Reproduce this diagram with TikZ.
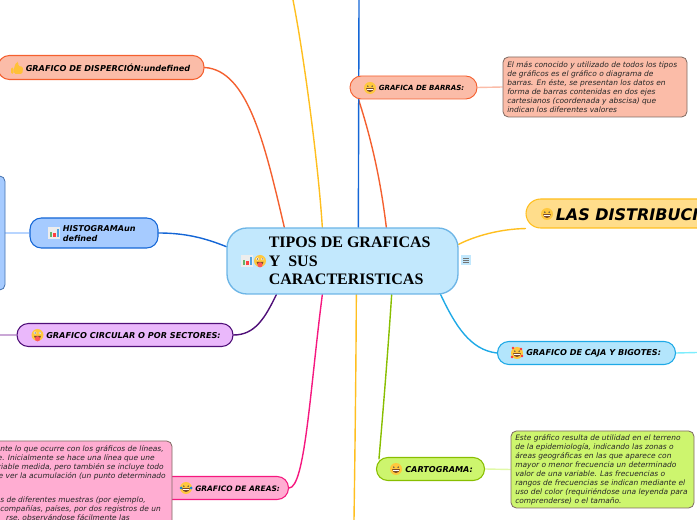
\documentclass[tikz,border=0pt]{standalone}
\usepackage{fontspec}
\setmainfont{DejaVu Sans}
\newfontfamily\titlefont{Liberation Serif}
\usetikzlibrary{calc,backgrounds}
\definecolor{cCenterF}{HTML}{C2E8FD}\definecolor{cCenterD}{HTML}{6DB5E6}
\definecolor{cRedF}{HTML}{FBBCA8}\definecolor{cRedD}{HTML}{F4602F}
\definecolor{cBlueF}{HTML}{A6CBFF}\definecolor{cBlueD}{HTML}{1466D6}
\definecolor{cPurF}{HTML}{EAB8FB}\definecolor{cPurD}{HTML}{4F0F78}
\definecolor{cCyanF}{HTML}{B3E5FC}\definecolor{cCyanD}{HTML}{1EA9E6}
\definecolor{cPinkF}{HTML}{FFADD2}\definecolor{cPinkD}{HTML}{F5187F}
\definecolor{cGrnF}{HTML}{CDF56E}\definecolor{cGrnD}{HTML}{88BE00}
\definecolor{cGoldF}{HTML}{FFDD8B}\definecolor{cGoldD}{HTML}{FFBF1F}
\definecolor{cFace}{HTML}{FFC83D}\definecolor{cEdge}{HTML}{7F6A62}
\definecolor{cMouth}{HTML}{7A4A2A}
\tikzset{
  sz/.style 2 args={minimum width=#1*0.75pt,minimum height=#2*0.75pt},
  pill/.style 2 args={draw=#2,fill=#1,line width=0.8pt,rounded corners=8.5pt,inner sep=0pt},
  detail/.style={fill=#1,draw=cEdge,line width=0.6pt,rounded corners=4pt,inner sep=0pt},
  head/.style={font=\fontsize{6.1pt}{7pt}\selectfont\bfseries\itshape,inner sep=0pt,anchor=west},
  headb/.style={font=\fontsize{6.05pt}{6.9pt}\selectfont\bfseries\itshape,inner sep=0pt,anchor=west,align=left},
  body/.style={font=\fontsize{5.6pt}{6.75pt}\selectfont\itshape,inner sep=0pt,align=left,anchor=north west,text=black!85},
  bline/.style={font=\fontsize{5.6pt}{6.75pt}\selectfont\itshape,inner sep=0pt,anchor=east,text=black!85},
  conn/.style={line width=1.05pt,line cap=round},
  leaf/.style={line width=1.05pt,draw=#1}
}
\newcommand\faceicon[2]{%
  \fill[cFace] (#1,#2) circle (6);
  \fill[black!70] (#1-2.2,#2-1.8) circle (0.8) (#1+2.2,#2-1.8) circle (0.8);
  \fill[cMouth] (#1-3.8,#2+0.2) -- (#1+3.8,#2+0.2) arc[start angle=0,end angle=180,radius=3.8] -- cycle;
  \fill[white] (#1-3,#2+0.6) rectangle (#1+3,#2+1.9);
}
\newcommand\tongueicon[2]{%
  \fill[cFace] (#1,#2) circle (6);
  \fill[white] (#1-2.4,#2-2) circle (1.6) (#1+2.4,#2-2) circle (1.2);
  \fill[black!75] (#1-2.4,#2-2) circle (0.7) (#1+2.4,#2-2) circle (0.6);
  \fill[cMouth] (#1-3.5,#2+0.8) -- (#1+3.5,#2+0.8) arc[start angle=0,end angle=180,radius=3.5] -- cycle;
  \fill[red!65!white] (#1,#2+3.8) circle (2.6);
}
\newcommand\thumbicon[2]{%
  \fill[cFace!90!orange,rounded corners=1pt] (#1-6,#2-0.5) rectangle (#1-3.5,#2+6);
  \fill[cFace!90!orange,rounded corners=1.2pt] (#1-3,#2+6) -- (#1-3,#2-0.5) -- (#1-0.5,#2-6) -- (#1+1.5,#2-6) -- (#1+1.2,#2-1.5) -- (#1+6,#2-1.5) -- (#1+5.5,#2+6) -- cycle;
}
\newcommand\chartlet[2]{%
  \fill[black!7] (#1-6,#2-6) rectangle (#1+6,#2+6);
  \fill[green!50!black!60] (#1-4.5,#2-1) rectangle (#1-2,#2+4.5);
  \fill[red!75] (#1-1,#2+0.5) rectangle (#1+1.5,#2+4.5);
  \fill[cyan!70!blue!70] (#1+2.5,#2-4) rectangle (#1+5,#2+4.5);
}
\begin{document}
\begin{tikzpicture}[x=0.75pt,y=-0.75pt]
\useasboundingbox (0,0) rectangle (697,520);
\clip (0,0) rectangle (697,520);
% nodes
\node[pill={cCenterF}{cCenterD},sz={231}{66},rounded corners=15pt,line width=1pt] (center) at (342.5,261) {};
\node[inner sep=0pt,anchor=north west,align=left,font=\titlefont\fontsize{12pt}{14.1pt}\selectfont\bfseries] (centert) at (268.5,236.5) {TIPOS DE GRAFICAS\\Y\ \ SUS\\CARACTERISTICAS};
\node[pill={cRedF}{cRedD},sz={206}{24}] (disp) at (101,67.5) {};
\node[head] (dispt) at (25.5,68) {GRAFICO DE DISPERCIÓN:undefined};
\node[pill={cRedF}{cRedD},sz={127}{23},line width=0.7pt] (barras) at (413.5,87.5) {};
\node[head,font=\fontsize{5.3pt}{7pt}\selectfont\bfseries\itshape] (barrast) at (378.5,88) {GRAFICA DE BARRAS:};
\node[detail=cRedF,sz={184}{60}] (barrasd) at (595,87) {};
\node[body] (barrasdt) at (507,61) {El más conocido y utilizado de todos los tipos\\de gráficos es el gráfico o diagrama de\\barras. En éste, se presentan los datos en\\forma de barras contenidas en dos ejes\\cartesianos (coordenada y abscisa) que\\indican los diferentes valores};
\node[pill={cGoldF}{cGoldD},sz={200}{29},rounded corners=11pt] (distrib) at (626,213.5) {};
\node[head,font=\fontsize{12pt}{14pt}\selectfont\bfseries\itshape] (distribt) at (555.5,214.5) {LAS DISTRIBUCI};
\node[pill={cBlueF}{cBlueD},sz={128}{30}] (hist) at (94,233) {};
\node[headb] (histt) at (62.5,233.5) {HISTOGRAMAun\\defined};
\node[detail=cBlueF,sz={40}{114},draw=cBlueD!55!gray] (histd) at (-15,233) {};
\node[pill={cPurF}{cPurD},sz={216}{23}] (circ) at (125,335) {};
\node[head] (circt) at (46,335.5) {GRAFICO CIRCULAR O POR SECTORES:};
\node[pill={cCyanF}{cCyanD},sz={178}{23}] (caja) at (586.5,353) {};
\node[head,font=\fontsize{6.1pt}{7pt}\selectfont\bfseries\itshape] (cajat) at (526,353.5) {GRAFICO DE CAJA Y BIGOTES:};
\node[pill={cGrnF}{cGrnD},sz={108}{23}] (carto) at (430.5,469) {};
\node[head] (cartot) at (405,469.5) {CARTOGRAMA:};
\node[detail=cGrnF,sz={183}{77}] (cartod) at (602.5,469.5) {};
\node[body] (cartodt) at (515,434.5) {Este gráfico resulta de utilidad en el terreno\\de la epidemiología, indicando las zonas o\\áreas geográficas en las que aparece con\\mayor o menor frecuencia un determinado\\valor de una variable. Las frecuencias o\\rangos de frecuencias se indican mediante el\\uso del color (requiriéndose una leyenda para\\comprenderse) o el tamaño.};
\node[pill={cPinkF}{cPinkD},sz={130}{23}] (areas) at (223.5,488) {};
\node[detail=cPinkF,sz={192}{120}] (areasd) at (76,501) {};
\node[head,font=\fontsize{5.6pt}{7pt}\selectfont\bfseries\itshape] (areast) at (195,488.5) {GRAFICO DE AREAS:};
\node[bline] (a1) at (164,449) {nte lo que ocurre con los gráficos de líneas,};
\node[bline] (a2) at (155,458) {e. Inicialmente se hace una línea que une};
\node[bline] (a3) at (164,467) {riable medida, pero también se incluye todo};
\node[bline] (a4) at (166,476.5) {e ver la acumulación (un punto determinado};
\node[bline] (a5) at (146,500) {s de diferentes muestras (por ejemplo,};
\node[bline] (a6) at (161,509) {compañías, países, por dos registros de un};
\node[bline] (a7) at (130,518) {rse, observándose fácilmente las};
% icons
\chartlet{247}{261}
\tongueicon{260}{261}
\thumbicon{17}{68}
\faceicon{370}{88}
\faceicon{547}{214}
\chartlet{54}{233}
\tongueicon{37.5}{335}
\faceicon{517}{353}
\fill[red!80] (513,348) circle (1.4) (521,349) circle (1.4) (512,357) circle (1.4) (522,356) circle (1.4);
\faceicon{396}{469}
\faceicon{186}{488}
\fill[cyan!70!blue] (181,488) circle (1.5) (191,488) circle (1.5);
\fill[cCenterF] (461,255) rectangle (471,265);
\draw[black!55,line width=0.6pt] (463,258) -- (469,258) (463,260) -- (469,260) (463,262) -- (469,262);
% connectors
\coordinate (topA) at (293,0);
\coordinate (topB) at (359,0);
\coordinate (botA) at (354,520);
\coordinate (rightC) at (697,352.5);
\coordinate (leftP) at (0,335);
\begin{scope}[on background layer]
\draw[conn,cRedD] (disp.east) .. controls (248,70) and (265,145) .. ($(center.north west)+(58,0)$);
\draw[conn,cRedD] ($(barras.south west)+(9,0)$) .. controls (370,135) and (380,175) .. ($(center.north west)+(160,0)$);
\draw[conn,cBlueD] (topB) -- ($(center.north west)+(132,0)$);
\draw[conn,cGoldD] (topA) .. controls (303,50) and (318,160) .. ($(center.north west)+(96,0)$);
\draw[conn,cGoldD] (distrib.south west) .. controls (500,229) and (475,236) .. ($(center.north east)+(0,17)$);
\draw[conn,cCyanD] (caja.west) .. controls (470,350) and (455,325) .. ($(center.south east)+(-18,0)$);
\draw[conn,cGrnD] ($(carto.north west)+(3,2)$) .. controls (384,400) and (388,350) .. ($(center.south east)+(-67,0)$);
\draw[conn,cGoldD] ($(center.south west)+(130,0)$) .. controls (356,370) and (355,450) .. (botA);
\draw[conn,cPinkD] (areas.east) .. controls (305,488) and (310,390) .. ($(center.south west)+(96,0)$);
\draw[conn,cPurD] (circ.east) .. controls (255,335) and (265,318) .. ($(center.south west)+(50,0)$);
\draw[conn,cBlueD] (hist.east) .. controls (185,233) and (205,238) .. ($(center.south west)+(0,-48)$);
\draw[leaf=cBlueF!80] (histd.east) -- (hist.west);
\draw[leaf=cPurF!70!gray] (leftP) -- (circ.west);
\draw[leaf=cRedF] (barras.east) -- (barrasd.west);
\draw[leaf=cGrnF!60!white] (carto.east) -- (cartod.west);
\draw[leaf=cCyanF!70!cyan] (caja.east) -- (rightC);
\end{scope}
\end{tikzpicture}
\end{document}
